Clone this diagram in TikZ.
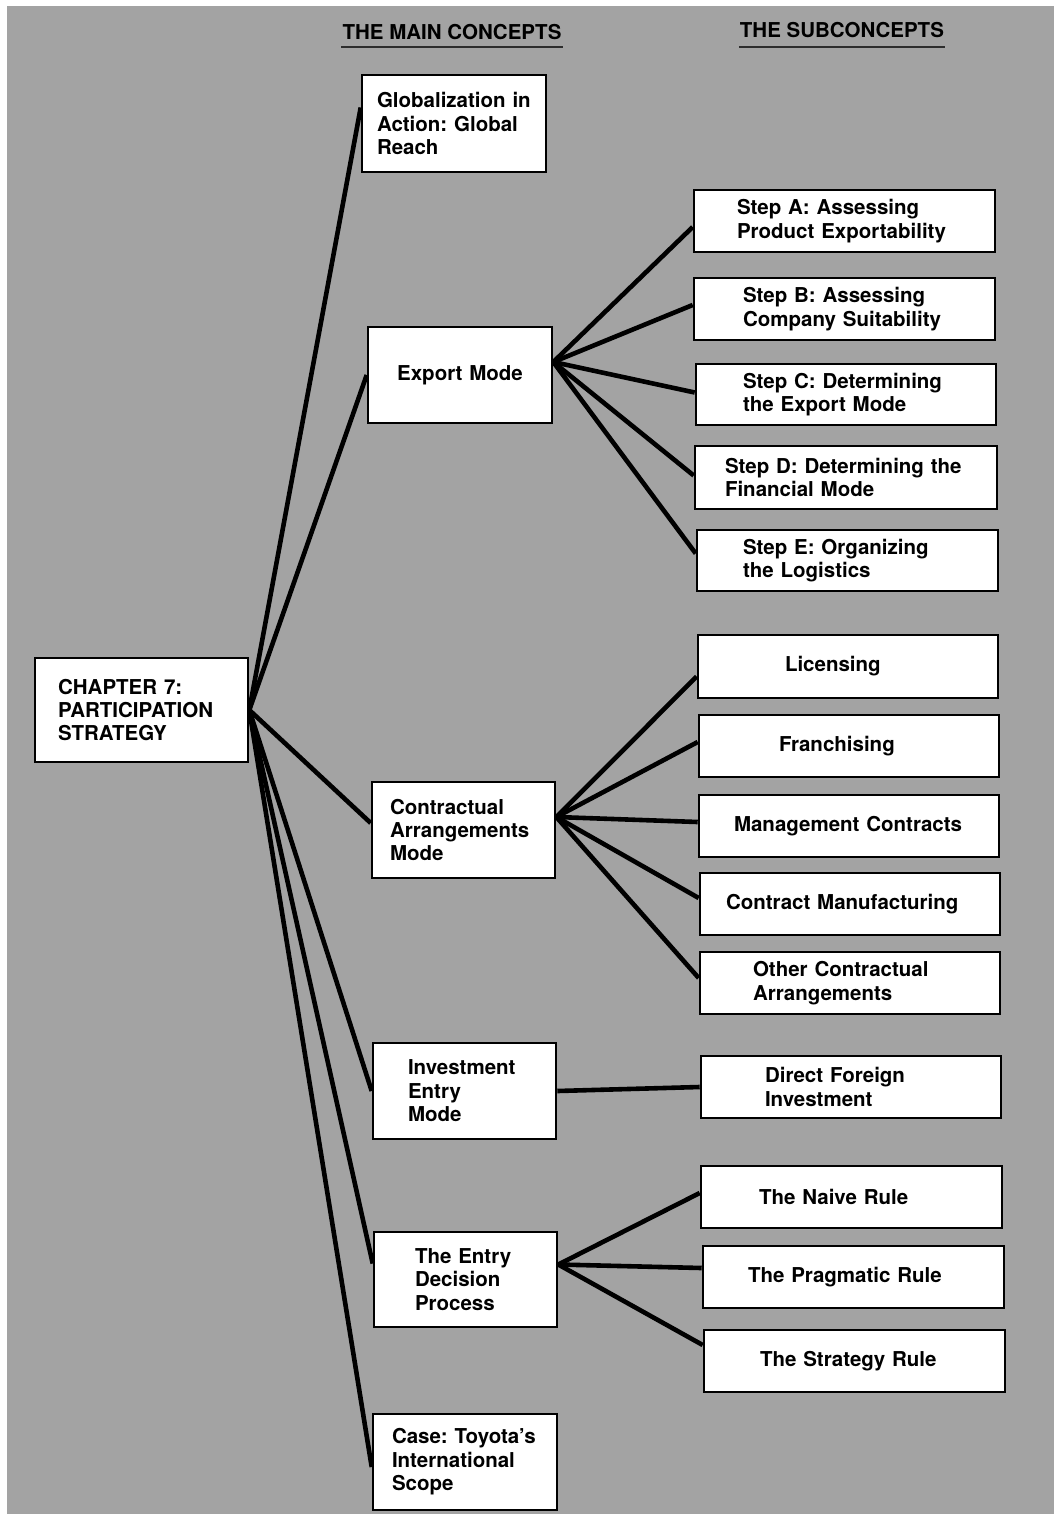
\documentclass[tikz,border=0pt]{standalone}
\usepackage{fontspec}
\setmainfont{TeX Gyre Heros}
\usetikzlibrary{backgrounds}
\definecolor{bggray}{RGB}{163,163,163}
\definecolor{ulgray}{RGB}{45,45,45}
\newcommand\lnx[1]{\mbox{#1}}
% \bx[extra]{name}{x1}{y1}{x2}{y2}{pad}{text}
\newcommand\bx[8][]{%
  \pgfmathsetmacro\bxw{#5-#3}%
  \pgfmathsetmacro\bxh{#6-#4}%
  \pgfmathsetmacro\bxt{#5-#3-2*#7}%
  \pgfmathsetmacro\bxcx{(#3+#5)/2}%
  \pgfmathsetmacro\bxcy{(#4+#6)/2}%
  \node[box, minimum width=\bxw pt, minimum height=\bxh pt, inner xsep=#7pt,
        text width=\bxt pt, #1] (#2) at (\bxcx,\bxcy) {#8};}
\frenchspacing
\begin{document}
\frenchspacing
\begin{tikzpicture}[x=1pt, y=-1pt,
  box/.style={draw=black, fill=white, line width=2.6pt, align=left, inner ysep=0pt,
    font=\fontsize{20.5}{23.4}\selectfont\bfseries\frenchspacing},
  connector/.style={draw=black, line width=4.6pt},
  header/.style={font=\fontsize{20.5}{24}\selectfont\bfseries, inner xsep=1pt, inner ysep=0pt},
  uline/.style={draw=ulgray, line width=2.4pt}]
\useasboundingbox (0,0) rectangle (1062,1521);

% main concepts
\bx{root}{35}{658}{248}{762}{23}{\lnx{CHAPTER 7:}\\\lnx{PARTICIPATION}\\\lnx{STRATEGY}}
\bx{glob}{362}{75}{546}{172}{15}{\lnx{Globalization in}\\\lnx{Action: Global}\\\lnx{Reach}}
\bx[align=center]{exp}{368}{327}{552}{423}{10}{\lnx{Export Mode}}
\bx{con}{372}{782}{555}{878}{18}{\lnx{Contractual}\\\lnx{Arrangements}\\\lnx{Mode}}
\bx{inv}{373}{1043}{556}{1139}{35}{\lnx{Investment}\\\lnx{Entry}\\\lnx{Mode}}
\bx{ent}{374}{1232}{557}{1327}{41}{\lnx{The Entry}\\\lnx{Decision}\\\lnx{Process}}
\bx{cas}{373}{1414}{557}{1510}{19}{\lnx{Case: Toyota's}\\\lnx{International}\\\lnx{Scope}}

% subconcepts
\bx{sa}{694}{190}{995}{252}{43}{\lnx{Step A: Assessing}\\\lnx{Product Exportability}}
\bx{sb}{694}{278}{995}{340}{49}{\lnx{Step B: Assessing}\\\lnx{Company Suitability}}
\bx{sc}{696}{364}{996}{425}{47}{\lnx{Step C: Determining}\\\lnx{the Export Mode}}
\bx{sd}{695}{446}{997}{509}{30}{\lnx{Step D: Determining the}\\\lnx{Financial Mode}}
\bx{se}{697}{530}{998}{591}{46}{\lnx{Step E: Organizing}\\\lnx{the Logistics}}
\bx{lic}{698}{635}{998}{698}{87}{\lnx{Licensing}}
\bx{fra}{699}{715}{999}{777}{80}{\lnx{Franchising}}
\bx{mgt}{699}{795}{999}{857}{35}{\lnx{Management Contracts}}
\bx{cm}{700}{873}{1000}{935}{26}{\lnx{Contract Manufacturing}}
\bx{oth}{700}{952}{1000}{1014}{53}{\lnx{Other Contractual}\\\lnx{Arrangements}}
\bx{dfi}{701}{1056}{1001}{1118}{64}{\lnx{Direct Foreign}\\\lnx{Investment}}
\bx{nai}{701}{1166}{1002}{1228}{58}{\lnx{The Naive Rule}}
\bx{pra}{703}{1246}{1004}{1308}{45}{\lnx{The Pragmatic Rule}}
\bx{str}{704}{1330}{1005}{1392}{56}{\lnx{The Strategy Rule}}

% headers
\node[header, anchor=base] (h1) at (452,39.5) {THE MAIN CONCEPTS};
\node[header, anchor=base] (h2) at (842,37.5) {THE SUBCONCEPTS};
\draw[uline] ([yshift=-7.5pt]h1.base west) -- ([yshift=-7.5pt]h1.base east);
\draw[uline] ([yshift=-9.5pt]h2.base west) -- ([yshift=-9.5pt]h2.base east);

% hubs
\coordinate (hE) at ([yshift=13pt]exp.east);
\coordinate (hC) at ([yshift=13pt]con.east);
\coordinate (hD) at ([yshift=15pt]ent.east);

\begin{scope}[on background layer]
  \fill[bggray] (7,6) rectangle (1054,1514);
  % root to main concepts
  \draw[connector] (root.east) -- ([yshift=16pt]glob.west);
  \draw[connector] (root.east) -- (exp.west);
  \draw[connector] (root.east) -- ([yshift=7pt]con.west);
  \draw[connector] (root.east) -- (inv.west);
  \draw[connector] (root.east) -- ([yshift=16pt]ent.west);
  \draw[connector] (root.east) -- ([yshift=-5pt]cas.west);
  % export mode
  \draw[connector] (hE) -- ([yshift=-6pt]sa.west);
  \draw[connector] (hE) -- ([yshift=4pt]sb.west);
  \draw[connector] (hE) -- ([yshift=2pt]sc.west);
  \draw[connector] (hE) -- ([yshift=2pt]sd.west);
  \draw[connector] (hE) -- ([yshift=7pt]se.west);
  % contractual
  \draw[connector] (hC) -- ([yshift=-10pt]lic.west);
  \draw[connector] (hC) -- ([yshift=4pt]fra.west);
  \draw[connector] (hC) -- ([yshift=4pt]mgt.west);
  \draw[connector] (hC) -- ([yshift=6pt]cm.west);
  \draw[connector] (hC) -- ([yshift=5pt]oth.west);
  % investment
  \draw[connector] (inv.east) -- (dfi.west);
  % entry decision
  \draw[connector] (hD) -- ([yshift=4pt]nai.west);
  \draw[connector] (hD) -- ([yshift=9pt]pra.west);
  \draw[connector] (hD) -- ([yshift=16pt]str.west);
\end{scope}
\end{tikzpicture}
\end{document}
